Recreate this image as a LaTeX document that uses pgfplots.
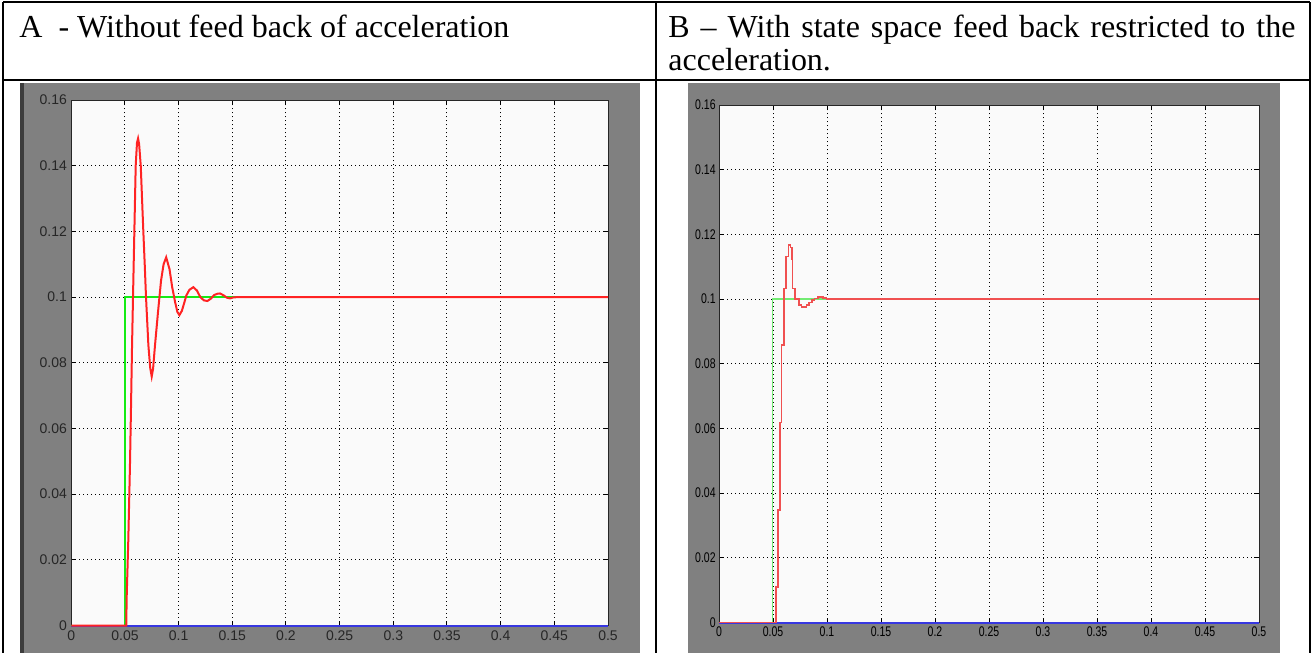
\documentclass[border=0pt]{standalone}
\usepackage{fontspec}
\setmainfont{Liberation Serif}
\newfontfamily\arialf{Liberation Sans}
\newfontfamily\arialn[FakeStretch=0.75]{Liberation Sans}
\usepackage{pgfplots}
\pgfplotsset{compat=1.18}

\definecolor{figgray}{RGB}{128,128,128}
\definecolor{figdark}{RGB}{60,60,60}
\definecolor{axbg}{RGB}{250,250,250}
\definecolor{mred}{RGB}{255,35,35}
\definecolor{mredB}{RGB}{240,80,80}
\definecolor{mgreen}{RGB}{20,235,20}
\definecolor{mgreenB}{RGB}{115,235,115}
\definecolor{mblue}{RGB}{55,55,225}

\pgfplotsset{
  simfig/.style={
    scale only axis,
    xmin=0, xmax=0.5, ymin=0, ymax=0.16,
    xtick={0,0.05,0.1,0.15,0.2,0.25,0.3,0.35,0.4,0.45,0.5},
    xticklabels={0,0.05,0.1,0.15,0.2,0.25,0.3,0.35,0.4,0.45,0.5},
    ytick={0,0.02,0.04,0.06,0.08,0.1,0.12,0.14,0.16},
    yticklabels={0,0.02,0.04,0.06,0.08,0.1,0.12,0.14,0.16},
    grid=major,
    major grid style={black, line width=0.5pt, dash pattern=on 0.5pt off 1.5pt},
    tick align=inside, tick pos=both, major tick length=2.5pt,
    every tick/.style={black, line width=0.5pt},
    axis background/.style={fill=axbg},
    axis line style={black!85, line width=0.5pt},
    clip=false,
  },
}

\begin{document}
\begin{tikzpicture}
\useasboundingbox (0,0) rectangle (656pt,-326.5pt);

% table frame, figure windows, headers (1 unit = 1 px of the reference)
\begin{scope}[x=0.5pt, y=-0.5pt]
  \fill[white] (0,0) rectangle (1312,653);
  \fill[figgray] (20,83) rectangle (640,653);
  \fill[figdark] (20,83) rectangle (24,653);
  \fill[figgray] (688,83) rectangle (1280,653);
  \draw[line width=1.3pt] (3,2) -- (1310,2);
  \draw[line width=1.3pt] (3,80) -- (1310,80);
  \draw[line width=1.3pt] (3,2) -- (3,653);
  \draw[line width=1.3pt] (656,2) -- (656,653);
  \draw[line width=1.3pt] (1310,2) -- (1310,653);
  \begin{scope}[every node/.style={anchor=base west, inner sep=0pt, font=\fontsize{16}{19}\selectfont}]
    \node at (19,37) {A\ \ - Without feed back of acceleration};
    \node at (668,37) {\makebox[313.5pt][s]{B – With state space feed back restricted to the}};
    \node at (668,70) {acceleration.};
  \end{scope}
\end{scope}

% A - without feed back of acceleration
\begin{axis}[simfig,
  at={(35.65pt,-312.75pt)}, anchor=south west,
  width=268.35pt, height=262.75pt,
  yticklabel style={font=\arialf\fontsize{7}{8}\selectfont, text=black!85, inner sep=1pt, xshift=-1pt},
  xticklabel style={font=\arialf\fontsize{7}{8}\selectfont, text=black!85, inner sep=1pt, yshift=-1.5pt},
]
\addplot[mblue, line width=1pt] coordinates {(0,0) (0.5,0)};
\addplot[mgreen, line width=0.75pt] coordinates {(0,0) (0.05,0) (0.05,0.1) (0.5,0.1)};
\addplot[mred, line width=1pt] coordinates {
(0,0) (0.0512,0) (0.0516,0.0087) (0.0531,0.026) (0.0547,0.0495) (0.0557,0.0678)
(0.0566,0.0854) (0.0578,0.105) (0.0590,0.124) (0.0600,0.140) (0.0612,0.1470)
(0.0622,0.1483) (0.0632,0.1465) (0.0647,0.140) (0.0659,0.130) (0.0671,0.120)
(0.0684,0.110) (0.0696,0.100) (0.0718,0.0854) (0.0735,0.0785) (0.0749,0.0758)
(0.0762,0.0782) (0.0780,0.0854) (0.0808,0.0955) (0.0836,0.1050) (0.0860,0.1100)
(0.0884,0.1121) (0.0915,0.1085) (0.0940,0.1030) (0.0967,0.0985) (0.0988,0.0955)
(0.1007,0.0945) (0.1030,0.0958) (0.1050,0.0980) (0.1072,0.1005) (0.1100,0.1022)
(0.1137,0.1030) (0.1170,0.1020) (0.1202,0.1000) (0.1235,0.0990) (0.1268,0.0988)
(0.1300,0.0995) (0.1330,0.1006) (0.1360,0.1010) (0.1386,0.1011) (0.1420,0.1005)
(0.1450,0.0998) (0.1480,0.0996) (0.1510,0.0999) (0.1560,0.1000) (0.5,0.1)
};
\end{axis}

% B - with state space feed back restricted to the acceleration
\begin{axis}[simfig,
  at={(359.5pt,-311.25pt)}, anchor=south west,
  width=270pt, height=258.75pt,
  yticklabel style={font=\arialn\fontsize{7}{8}\selectfont, inner sep=1pt, xshift=-0.5pt},
  xticklabel style={font=\arialn\fontsize{7}{8}\selectfont, inner sep=1pt, yshift=-1pt},
]
\addplot[mblue, line width=1pt] coordinates {(0,0) (0.5,0)};
\addplot[mgreenB, line width=0.8pt] coordinates {(0,0) (0.0497,0) (0.0497,0.1) (0.5,0.1)};
\addplot[mredB, line width=0.8pt, const plot] coordinates {
(0,0) (0.0525,0.0109) (0.0544,0.0348) (0.0565,0.0618) (0.0580,0.0858) (0.0600,0.1033)
(0.0622,0.1131) (0.0642,0.1167) (0.0661,0.1160) (0.0674,0.1123) (0.0681,0.1033)
(0.0706,0.1000) (0.0743,0.0982) (0.0763,0.0975) (0.0809,0.0982) (0.0833,0.0989)
(0.0861,0.0997) (0.0886,0.1002) (0.0917,0.1007) (0.0963,0.1004) (0.0994,0.1000)
(0.5,0.1)
};
\end{axis}
\end{tikzpicture}
\end{document}
